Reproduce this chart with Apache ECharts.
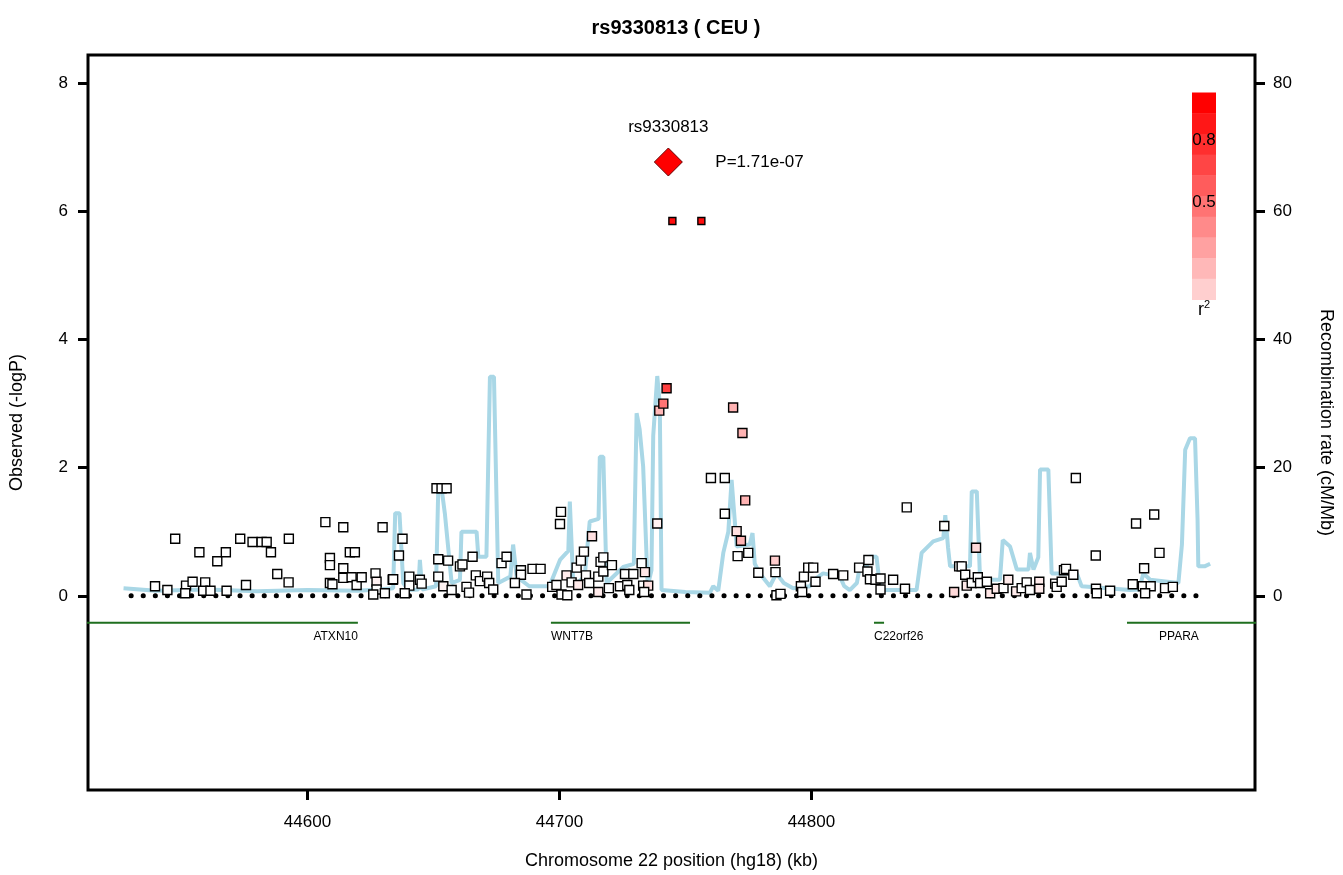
<!DOCTYPE html>
<html>
<head>
<meta charset="utf-8">
<script src="https://cdn.jsdelivr.net/npm/echarts@6/dist/echarts.min.js"></script>
<style>
  html, body { margin: 0; padding: 0; background: #fff; }
  #chart { width: 1343px; height: 875px; }
</style>
</head>
<body>
<div id="chart"></div>
<script>
// SNPs: [position kb, -logP, r2]
const snps = [
  [44539.5,0.15,0],[44544.4,0.09,0],[44547.5,0.89,0],[44551.8,0.16,0],[44551.5,0.04,0],
  [44554.4,0.22,0],[44557.1,0.68,0],[44559.4,0.21,0],[44558.6,0.08,0],[44561.5,0.08,0],
  [44564.2,0.54,0],[44567.6,0.68,0],[44567.9,0.08,0],[44573.3,0.89,0],[44575.6,0.17,0],
  [44578.2,0.84,0],[44581.8,0.84,0],[44583.8,0.84,0],[44585.5,0.68,0],[44588.0,0.34,0],
  [44592.6,0.89,0],[44592.5,0.21,0],[44607.1,1.15,0],[44614.2,1.07,0],[44608.9,0.59,0],
  [44608.9,0.48,0],[44614.2,0.43,0],[44616.8,0.68,0],[44618.8,0.68,0],[44608.9,0.20,0],
  [44609.9,0.18,0],[44614.2,0.28,0],[44617.5,0.29,0],[44619.5,0.17,0],[44621.5,0.29,0],
  [44627.0,0.35,0],[44627.4,0.22,0.05],[44627.4,0.10,0],[44626.1,0.02,0],[44630.7,0.04,0],
  [44629.8,1.07,0],[44633.8,0.25,0],
  [44637.7,0.89,0],[44636.3,0.63,0],[44634.0,0.26,0],[44640.4,0.30,0],[44640.4,0.16,0],
  [44638.6,0.04,0],[44644.6,0.25,0],[44645.3,0.19,0],[44651.2,1.68,0],[44653.2,1.68,0],
  [44655.2,1.68,0],[44651.9,0.57,0],[44655.8,0.55,0],[44651.9,0.30,0],[44653.9,0.15,0.05],
  [44657.2,0.09,0],[44660.5,0.46,0],[44661.5,0.49,0],[44665.5,0.61,0],[44666.8,0.32,0],
  [44668.4,0.23,0],[44671.3,0.30,0],[44672.1,0.20,0],[44663.1,0.14,0],[44664.1,0.05,0],
  [44673.7,0.10,0],[44677.0,0.51,0],[44679.0,0.61,0],[44684.7,0.40,0],[44684.7,0.33,0],
  [44682.3,0.20,0],[44686.9,0.02,0],[44689.3,0.42,0],[44692.5,0.42,0],[44697.1,0.14,0],
  [44698.8,0.17,0],[44700.8,0.02,0],[44703.1,0.01,0],[44700.6,1.31,0],[44700.2,1.12,0],
  [44702.8,0.32,0.08],[44704.8,0.21,0],[44706.8,0.44,0],[44708.5,0.55,0],[44709.7,0.69,0],
  [44707.4,0.17,0.08],[44710.5,0.32,0],[44711.8,0.20,0],[44712.9,0.93,0.12],[44715.4,0.30,0],
  [44716.3,0.53,0],[44717.4,0.60,0],[44717.4,0.38,0],[44720.8,0.48,0],[44715.4,0.06,0.08],
  [44719.6,0.12,0],[44724.0,0.15,0],[44726.0,0.34,0],[44726.9,0.17,0],[44729.3,0.34,0],
  [44727.7,0.09,0],[44732.6,0.51,0],[44733.9,0.37,0.1],[44733.2,0.16,0],[44735.2,0.16,0.12],
  [44733.6,0.06,0],[44738.8,1.13,0.05],[44739.6,2.89,0.28],[44741.2,3.00,0.55],[44742.5,3.24,0.75],
  [44744.8,5.85,0.95],[44756.3,5.85,0.95],
  [44768.9,2.94,0.3],[44772.6,2.54,0.3],[44760.1,1.84,0],[44765.6,1.84,0],[44773.7,1.49,0.3],
  [44765.6,1.28,0],[44770.3,1.01,0.12],[44772.0,0.86,0.3],[44770.7,0.62,0],[44774.9,0.67,0],
  [44778.9,0.36,0],[44785.5,0.55,0.2],[44785.7,0.37,0],[44786.1,0.01,0],[44787.7,0.03,0],
  [44795.8,0.15,0],[44796.3,0.06,0],[44797.0,0.30,0],[44798.7,0.44,0],[44800.7,0.44,0],
  [44801.6,0.22,0],[44808.6,0.34,0],[44812.6,0.32,0],[44818.9,0.44,0],[44822.6,0.56,0],
  [44822.2,0.38,0],[44823.2,0.26,0],[44825.4,0.25,0],[44827.4,0.27,0],[44827.4,0.10,0],
  [44832.4,0.25,0],[44837.1,0.11,0],[44837.8,1.38,0],[44852.7,1.09,0],[44856.6,0.06,0.15],
  [44858.6,0.46,0],
  [44865.3,0.75,0.15],[44859.6,0.46,0],[44861.0,0.33,0],[44861.6,0.16,0.08],[44863.6,0.20,0],
  [44866.0,0.29,0],[44866.9,0.20,0],[44869.6,0.22,0],[44870.9,0.04,0.1],[44873.5,0.11,0.08],
  [44876.2,0.12,0],[44878.1,0.25,0.08],[44881.2,0.07,0.08],[44883.4,0.12,0],[44885.4,0.21,0],
  [44886.7,0.09,0],[44890.4,0.22,0.08],[44890.4,0.11,0.08],[44896.7,0.19,0],[44897.3,0.14,0],
  [44899.3,0.22,0],[44900.2,0.40,0],[44901.0,0.42,0],[44903.9,0.33,0],[44904.9,1.84,0],
  [44912.8,0.63,0],[44912.9,0.11,0],[44913.2,0.04,0],[44918.5,0.08,0],[44927.5,0.18,0],
  [44928.8,1.13,0],[44936.0,1.27,0],[44938.1,0.67,0],[44932.0,0.43,0],[44931.5,0.15,0],
  [44934.6,0.15,0],[44932.4,0.04,0],[44940.3,0.12,0],[44943.4,0.14,0]
];

const topSnp = [44743.2, 6.77];
const topName = 'rs9330813';
const topP = 'P=1.71e-07';

// recombination rate (cM/Mb)
const recomb = [
  [44527,1.2],[44540,0.8],[44560,1.0],[44580,0.7],[44600,0.9],[44620,0.8],[44628,1.0],
  [44634.0,1.2],[44634.8,12.9],[44636.5,12.9],[44638,2.0],[44640,0.9],[44644.0,1.0],
  [44644.6,5.6],[44645.5,1.0],[44651.0,1.5],[44651.9,16.8],[44653.2,16.8],[44654.5,12.9],
  [44657.2,2.0],[44660.5,2.5],[44661.1,10.0],[44667.1,10.0],[44667.8,6.1],[44671.0,6.1],
  [44672.4,34.2],[44674.0,34.2],[44675.7,2.0],[44680.5,3.0],[44681.6,8.0],[44683,3.0],
  [44688,1.5],[44696,1.5],[44700.2,5.6],[44703.5,7.0],[44704.1,14.7],[44705.5,1.5],
  [44710,3.0],[44712,11.6],[44715.5,12.0],[44716.0,21.7],[44717.4,21.7],[44718.7,2.0],
  [44725.3,4.5],[44729.5,5.0],[44730.6,28.5],[44731.8,26.0],[44733.2,20.2],[44735.0,1.5],
  [44736.5,4.0],[44737.2,25.0],[44738.8,34.3],[44739.8,30.0],[44740.5,0.9],[44750,0.6],
  [44759.7,0.5],[44761,1.5],[44763,0.8],[44765,6.7],[44767,10],[44768.3,18.1],[44769.5,12],
  [44770.3,7.7],[44775.5,8.0],[44776.6,9.8],[44777.5,5.0],[44779.5,3.5],[44783.5,1.5],
  [44786.1,3.5],[44789,2.0],[44792.7,1.2],[44799.4,1.5],[44801,2.5],[44804.6,3.5],
  [44811.3,3.0],[44813,1.5],[44815.2,0.9],[44818,2.0],[44819.2,4.6],[44822,4.6],
  [44823,6.1],[44825.8,6.1],[44827,2.0],[44828.5,0.9],[44841.7,0.9],[44843.7,6.7],
  [44848.3,8.5],[44852.3,9.0],[44853.1,12.6],[44854.2,7.5],[44855,4.6],[44862.9,4.6],
  [44863.6,16.3],[44865.6,16.3],[44866.9,2.5],[44874.8,2.5],[44875.9,8.7],[44878.8,7.7],
  [44881.5,4.1],[44886.1,4.1],[44886.7,6.7],[44888.1,4.1],[44890.0,6.0],[44890.7,19.7],
  [44894.0,19.7],[44895.3,3.5],[44905.3,3.5],[44907.2,1.5],[44926.4,0.9],[44930,1.0],
  [44931.7,3.5],[44934.4,2.5],[44945.6,2.0],[44947.0,8.0],[44948.3,22.8],[44950.2,24.6],
  [44952.2,24.6],[44953.2,12.0],[44953.5,4.6],[44956,4.6],[44958.2,5.0]
];

// genes: [name, start kb, end kb]
const genes = [
  ['ATXN10', 44500, 44620.0],
  ['WNT7B', 44696.6, 44751.8],
  ['C22orf26', 44824.8, 44828.8],
  ['PPARA', 44925.2, 45000]
];

const xTicks = [44600, 44700, 44800];
const yTicks = [0, 2, 4, 6, 8];
const y2Ticks = [0, 20, 40, 60, 80];
const r2Labels = ['0.8', '0.5'];
const baseline = [[44530, 0], [44956, 0]];
const geneY = -0.42;

function r2Color(r) {
  const t = Math.max(0, Math.min(1, r));
  const g = Math.round(255 * (1 - t));
  return 'rgb(255,' + g + ',' + g + ')';
}

const geneLine = [];
genes.forEach(g => { geneLine.push([g[1], geneY], [g[2], geneY], null); });
const geneLabels = genes.map(g => {
  const alignRight = g[0] === 'ATXN10' || g[0] === 'PPARA';
  const x = g[0] === 'PPARA' ? 44953.7 : (alignRight ? g[2] : g[1]);
  return { value: [x, geneY], label: { align: alignRight ? 'right' : 'left' } };
});

const legendBands = [];
for (let i = 0; i < 10; i++) {
  const r = 1 - i / 10;
  legendBands.push({
    type: 'rect',
    shape: { x: 1192, y: 92.5 + i * 20.7, width: 24, height: 21.2 },
    style: { fill: r2Color(0.1 + r * 0.9) }
  });
}

const chart = echarts.init(document.getElementById('chart'));
const font = 'Liberation Sans, Arial, sans-serif';
const tickStyle = { color: '#000', width: 3 };
chart.setOption({
  animation: false,
  textStyle: { fontFamily: font },
  title: {
    text: 'rs9330813 ( CEU )', left: 671, top: 13, textAlign: 'center',
    textStyle: { fontSize: 20, fontWeight: 'bold', color: '#000', fontFamily: font }
  },
  grid: { left: 88, right: 88, top: 55, bottom: 85, show: true, borderColor: '#000', borderWidth: 3 },
  xAxis: {
    type: 'value', min: 44512.9, max: 44976.0,
    name: 'Chromosome 22 position (hg18) (kb)', nameLocation: 'middle', nameGap: 62,
    nameTextStyle: { fontSize: 18, color: '#000' },
    axisLine: { show: false, onZero: false }, splitLine: { show: false },
    axisTick: { customValues: xTicks, length: 10, lineStyle: tickStyle },
    axisLabel: { customValues: xTicks, fontSize: 17, color: '#000', margin: 24, formatter: v => String(v) }
  },
  yAxis: [{
    type: 'value', min: -3.03, max: 8.44,
    name: 'Observed (-logP)', nameLocation: 'middle', nameGap: 62, nameRotate: 90,
    nameTextStyle: { fontSize: 18, color: '#000' },
    axisLine: { show: false, onZero: false }, splitLine: { show: false },
    axisTick: { customValues: yTicks, length: 10, lineStyle: tickStyle },
    axisLabel: { customValues: yTicks, fontSize: 17, color: '#000', margin: 20 }
  }, {
    type: 'value', min: -30.3, max: 84.4, position: 'right',
    name: 'Recombination rate (cM/Mb)', nameLocation: 'middle', nameGap: 62, nameRotate: -90,
    nameTextStyle: { fontSize: 18, color: '#000' },
    axisLine: { show: false, onZero: false }, splitLine: { show: false },
    axisTick: { customValues: y2Ticks, length: 10, lineStyle: tickStyle },
    axisLabel: { customValues: y2Ticks, fontSize: 17, color: '#000', margin: 18 }
  }],
  graphic: legendBands.concat([
    { type: 'text', x: 1204, y: 140, style: { text: r2Labels[0], fontSize: 17, fill: '#000', align: 'center', verticalAlign: 'middle', fontFamily: font } },
    { type: 'text', x: 1204, y: 202, style: { text: r2Labels[1], fontSize: 17, fill: '#000', align: 'center', verticalAlign: 'middle', fontFamily: font } },
    { type: 'text', x: 1204, y: 310, style: { rich: { s: { fontSize: 11, verticalAlign: 'top', padding: [0, 0, 10, 0] } }, text: 'r{s|2}', fontSize: 18, fill: '#000', align: 'center', verticalAlign: 'middle', fontFamily: font } }
  ]),
  series: [{
    type: 'line', yAxisIndex: 1, data: recomb, symbol: 'none', silent: true,
    lineStyle: { color: '#a9d7e6', width: 4 }, z: 1
  }, {
    type: 'line', data: baseline, symbol: 'none', silent: true,
    lineStyle: { color: '#000', width: 5, type: [0.1, 12], cap: 'round' }, z: 2
  }, {
    type: 'line', data: geneLine, symbol: 'none', silent: true, connectNulls: false,
    lineStyle: { color: '#1f6f1f', width: 2 }, z: 2
  }, {
    type: 'scatter', data: geneLabels, symbolSize: 0, silent: true, itemStyle: { opacity: 1 },
    label: { show: true, position: 'bottom', distance: 8, formatter: p => genes[p.dataIndex][0], fontSize: 12, color: '#000' }
  }, {
    type: 'scatter', data: snps, symbol: 'rect', silent: true,
    symbolSize: v => v[2] > 0.9 ? 7 : 9,
    itemStyle: { color: p => r2Color(p.value[2]), borderColor: '#000', borderWidth: 1.4, opacity: 1 }, z: 5
  }, {
    type: 'scatter', data: [topSnp], symbol: 'diamond', symbolSize: [28, 28], silent: true,
    itemStyle: { color: '#ff0000', borderColor: '#600', borderWidth: 1, opacity: 1 }, z: 6,
    label: { show: true, position: 'top', distance: 12, formatter: topName, fontSize: 17, color: '#000' }
  }, {
    type: 'scatter', data: [topSnp], symbolSize: 0, silent: true, itemStyle: { opacity: 1 },
    label: { show: true, position: 'right', offset: [42, 0], formatter: topP, fontSize: 17, color: '#000' }
  }]
});
</script>
</body>
</html>
